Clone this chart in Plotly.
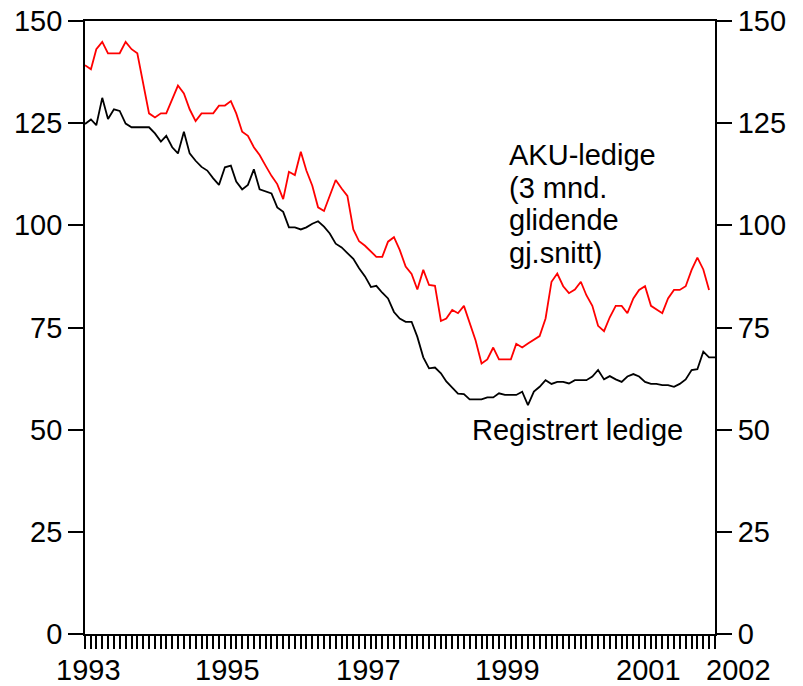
import plotly.graph_objects as go
import pandas as pd

# Registrert ledige (1000 personer), monthly from Jan 1993
registrert = [
    124.8, 125.9, 124.5, 131.2, 126.0, 128.4, 128.0, 124.9, 124.0, 124.0, 124.0, 124.0,
    122.5, 120.5, 121.9, 119.1, 117.6, 122.9, 117.6, 115.8, 114.3, 113.4, 111.5, 109.9,
    114.2, 114.6, 110.7, 108.8, 109.9, 113.7, 108.8, 108.2, 107.8, 104.4, 103.3, 99.5,
    99.5, 99.0, 99.5, 100.4, 101.0, 99.7, 98.0, 95.5, 94.6, 93.2, 91.8, 89.5,
    87.5, 84.9, 85.2, 83.5, 82.1, 78.8, 77.2, 76.4, 76.4, 72.7, 67.7, 65.0,
    65.2, 63.8, 61.8, 60.3, 58.8, 58.7, 57.4, 57.4, 57.4, 57.9, 57.9, 58.9,
    58.5, 58.5, 58.5, 59.3, 56.0, 59.3, 60.5, 62.1, 61.2, 61.7, 61.7, 61.3,
    62.1, 62.1, 62.1, 63.0, 64.6, 62.3, 63.1, 62.3, 61.7, 63.0, 63.6, 63.0,
    61.7, 61.2, 61.2, 60.9, 60.9, 60.5, 61.2, 62.3, 64.6, 64.8, 69.1, 67.7,
    67.7,
]

# AKU-ledige (3 mnd. glidende gj.snitt), monthly from Jan 1993
aku = [
    139.2, 138.2, 143.1, 144.9, 142.1, 142.1, 142.1, 144.9, 143.1, 142.1, 134.3, 127.4,
    126.4, 127.4, 127.4, 131.1, 134.2, 132.3, 128.4, 125.5, 127.4, 127.4, 127.4, 129.3,
    129.3, 130.4, 127.4, 122.9, 121.9, 119.1, 117.2, 114.6, 112.1, 110.1, 106.4, 113.1,
    112.3, 118.0, 113.4, 109.7, 104.4, 103.5, 107.3, 111.1, 109.0, 107.2, 99.0, 96.1,
    95.0, 93.5, 92.3, 92.3, 96.0, 97.1, 94.0, 89.9, 88.1, 84.3, 89.1, 85.4,
    85.2, 76.6, 77.2, 79.3, 78.5, 80.3, 76.0, 71.8, 66.2, 67.2, 70.1, 67.2,
    67.2, 67.2, 71.0, 70.1, 71.1, 72.0, 72.9, 77.2, 86.2, 88.2, 85.1, 83.4,
    84.3, 86.2, 82.9, 80.3, 75.4, 74.1, 77.5, 80.3, 80.3, 78.5, 82.1, 84.2,
    85.1, 80.3, 79.4, 78.5, 82.1, 84.2, 84.2, 85.1, 89.1, 92.1, 89.2, 84.2,
]

year_tick_dates = ["1993-01-01", "1995-01-01", "1997-01-01", "1999-01-01", "2001-01-01"]
year_tick_labels = ["1993", "1995", "1997", "1999", "2001"]
end_label_date = "2002-01-01"
end_label = "2002"
y_ticks = [0, 25, 50, 75, 100, 125, 150]

aku_label_lines = ["AKU-ledige", "(3 mnd.", "glidende", "gj.snitt)"]
reg_label = "Registrert ledige"

months_reg = pd.date_range("1993-01-01", periods=len(registrert), freq="MS")
months_aku = pd.date_range("1993-01-01", periods=len(aku), freq="MS")

FONT = "Liberation Sans, Arial, sans-serif"
FS = 29
TXT = dict(family=FONT, size=FS, color="black")

fig = go.Figure()
fig.add_trace(go.Scatter(x=months_aku, y=aku, mode="lines",
                         line=dict(color="#ff0000", width=1.8), hoverinfo="skip"))
fig.add_trace(go.Scatter(x=months_reg, y=registrert, mode="lines",
                         line=dict(color="#000000", width=1.8), hoverinfo="skip"))
fig.add_trace(go.Scatter(x=months_reg, y=registrert, mode="lines", yaxis="y2",
                         opacity=0, hoverinfo="skip", showlegend=False))

axis_common = dict(showgrid=False, zeroline=False, showline=True, linecolor="black",
                   linewidth=1.8, tickcolor="black", tickwidth=1.5, automargin=False,
                   ticklabeloverflow="allow", tickfont=TXT)

# page body has an 8px margin, so the figure is sized/offset to compensate
fig.update_layout(
    width=795, height=678,
    margin=dict(l=77, r=88, t=13, b=52, autoexpand=False),
    paper_bgcolor="white", plot_bgcolor="white",
    showlegend=False,
    font=TXT,
    xaxis=dict(range=["1993-01-01", "2002-01-01"], mirror=True,
               ticks="outside", ticklen=13, showticklabels=False,
               tickvals=year_tick_dates,
               minor=dict(dtick="M1", tick0="1993-01-01", ticks="outside", ticklen=13,
                          tickwidth=1.5, tickcolor="black", showgrid=False),
               **axis_common),
    yaxis=dict(range=[0, 150], tickvals=y_ticks, ticks="outside", ticklen=15,
               **axis_common),
    yaxis2=dict(range=[0, 150], tickvals=y_ticks, ticks="outside", ticklen=15,
                overlaying="y", side="right", **axis_common),
)

# year labels under the x axis
for d, t in zip(year_tick_dates, year_tick_labels):
    fig.add_annotation(x=d, xref="x", y=-0.0587, yref="paper", text=t,
                       showarrow=False, xanchor="center", yanchor="middle", xshift=3,
                       font=TXT)
fig.add_annotation(x=end_label_date, xref="x", y=-0.0587, yref="paper", text=end_label,
                   showarrow=False, xanchor="center", yanchor="middle", xshift=23,
                   font=TXT)

# series labels
line_ys = [0.782, 0.728, 0.676, 0.622]
for txt, yy in zip(aku_label_lines, line_ys):
    fig.add_annotation(x=0.670, xref="paper", y=yy, yref="paper", text=txt,
                       showarrow=False, xanchor="left", yanchor="middle", font=TXT)
fig.add_annotation(x=0.611, xref="paper", y=0.333, yref="paper", text=reg_label,
                   showarrow=False, xanchor="left", yanchor="middle", font=TXT)

fig.write_html("out.html")
